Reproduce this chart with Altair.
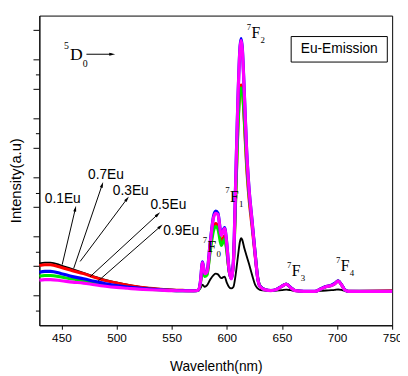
import math
import altair as alt
import pandas as pd

# ---------------- data ----------------
wavelength = [430, 435, 440, 450, 460, 470, 480, 490, 500, 510,
              520, 530, 540, 550, 560, 570, 574, 576, 578, 580,
              582, 585, 588, 590, 592, 595, 598, 600, 602, 604,
              606, 608, 610, 612, 613, 614, 616, 618, 620, 623,
              626, 628, 630, 635, 640, 645, 650, 654, 658, 662,
              670, 680, 685, 690, 695, 698, 701, 704, 707, 710,
              720, 735, 750]

eu01 = [4.20, 4.25, 4.25, 4.05, 3.80, 3.55, 3.30, 3.07, 2.90, 2.75,
        2.62, 2.53, 2.46, 2.41, 2.38, 2.36, 2.37, 2.50, 2.75, 2.60,
        2.70, 3.10, 3.40, 3.50, 3.45, 3.20, 3.30, 2.90, 2.60, 2.50,
        2.60, 3.40, 4.60, 5.70, 5.90, 5.80, 5.20, 4.70, 4.20, 3.40,
        2.70, 2.50, 2.40, 2.35, 2.34, 2.35, 2.38, 2.42, 2.38, 2.33,
        2.30, 2.30, 2.33, 2.36, 2.38, 2.40, 2.43, 2.40, 2.33, 2.30,
        2.29, 2.29, 2.29]

eu07 = [4.05, 4.10, 4.10, 3.92, 3.70, 3.50, 3.25, 3.03, 2.87, 2.72,
        2.60, 2.52, 2.45, 2.40, 2.37, 2.35, 2.37, 2.80, 4.00, 3.35,
        3.45, 5.20, 6.70, 6.90, 6.70, 5.70, 6.05, 5.10, 3.70, 3.20,
        4.20, 8.40, 13.2, 16.0, 16.3, 16.0, 13.6, 10.7, 8.70, 6.60,
        4.50, 3.20, 2.65, 2.40, 2.35, 2.42, 2.65, 2.78, 2.55, 2.35,
        2.30, 2.30, 2.45, 2.62, 2.70, 2.82, 3.00, 2.75, 2.40, 2.31,
        2.31, 2.32, 2.35]

eu03 = [3.33, 3.38, 3.38, 3.27, 3.13, 3.02, 2.88, 2.76, 2.66, 2.57,
        2.50, 2.44, 2.40, 2.36, 2.34, 2.33, 2.36, 2.75, 3.90, 3.30,
        3.40, 5.00, 6.40, 6.70, 6.50, 5.40, 5.85, 5.00, 3.70, 3.20,
        4.10, 8.30, 13.0, 15.8, 16.1, 15.9, 13.8, 11.0, 9.00, 6.90,
        4.70, 3.30, 2.70, 2.40, 2.35, 2.42, 2.65, 2.78, 2.55, 2.35,
        2.30, 2.30, 2.45, 2.62, 2.70, 2.82, 3.00, 2.75, 2.40, 2.30,
        2.29, 2.29, 2.29]

eu05 = [3.60, 3.66, 3.66, 3.50, 3.30, 3.15, 2.98, 2.82, 2.70, 2.60,
        2.52, 2.46, 2.41, 2.37, 2.35, 2.34, 2.38, 2.92, 4.30, 3.52,
        3.62, 5.65, 7.40, 7.75, 7.60, 6.15, 6.62, 5.55, 3.82, 3.17,
        4.35, 9.60, 15.1, 18.9, 19.45, 18.9, 15.6, 11.9, 9.45, 7.05,
        4.65, 3.22, 2.66, 2.41, 2.36, 2.43, 2.66, 2.80, 2.56, 2.36,
        2.31, 2.31, 2.46, 2.63, 2.72, 2.84, 3.02, 2.76, 2.41, 2.31,
        2.30, 2.30, 2.30]

eu09 = [3.05, 3.10, 3.10, 3.02, 2.93, 2.86, 2.75, 2.65, 2.57, 2.51,
        2.45, 2.41, 2.38, 2.35, 2.34, 2.33, 2.38, 2.90, 4.25, 3.50,
        3.60, 5.60, 7.30, 7.60, 7.50, 6.10, 6.55, 5.50, 3.80, 3.15,
        4.30, 9.50, 15.0, 18.8, 19.3, 18.8, 15.5, 11.8, 9.40, 7.00,
        4.60, 3.20, 2.65, 2.40, 2.35, 2.42, 2.65, 2.78, 2.55, 2.35,
        2.30, 2.30, 2.45, 2.62, 2.70, 2.82, 3.00, 2.75, 2.40, 2.30,
        2.29, 2.29, 2.29]

series_names = ["0.1Eu", "0.7Eu", "0.3Eu", "0.5Eu", "0.9Eu"]
series_values = [eu01, eu07, eu03, eu05, eu09]
series_colors = ["#000000", "#ff0000", "#00e600", "#0000ff", "#ff00ff"]
series_widths = [1.9, 3.0, 3.0, 3.2, 3.2]

# concentration labels and arrows (data coordinates)
eu_labels = ["0.1Eu", "0.7Eu", "0.3Eu", "0.5Eu", "0.9Eu"]
label_x = [451.2, 490.4, 512.9, 547.0, 558.6]
label_y = [8.53, 10.16, 9.07, 8.16, 6.40]
arrow_x1 = [450.7, 461.1, 467.0, 476.0, 483.3, 472.7]
arrow_y1 = [4.11, 3.85, 4.33, 3.29, 3.00, 18.38]
arrow_x2 = [462.6, 486.9, 509.4, 537.3, 539.6, 495.8]
arrow_y2 = [7.89, 9.51, 8.56, 7.51, 6.69, 18.38]

# spectroscopic term labels
term_main = ["F", "F", "F", "F", "F", "D"]
term_sup = ["7", "7", "7", "7", "7", "5"]
term_sub = ["2", "1", "0", "3", "4", "0"]
term_x = [626.4, 606.9, 586.4, 662.9, 707.3, 463.5]
term_y = [19.78, 8.71, 5.31, 3.65, 3.98, 18.31]

box_text = "Eu-Emission"
box_x = [658.4, 745.6]
box_y = [17.85, 19.58]

x_ticks = list(range(450, 751, 25))
y_ticks = list(range(1, 21))
y_major = list(range(2, 21, 2))

# ---------------- geometry ----------------
W, H = 360, 316
XDOM, YDOM = [430, 750], [0, 21]
sx = W / (XDOM[1] - XDOM[0])
sy = H / (YDOM[1] - YDOM[0])

SANS = "Liberation Sans"
SERIF = "Liberation Serif"

x_enc = alt.X(
    "w:Q",
    scale=alt.Scale(domain=XDOM, nice=False, zero=False),
    axis=alt.Axis(
        values=x_ticks,
        title="Wavelenth(nm)",
        labelExpr="datum.value % 50 === 0 ? datum.label : ''",
        tickSize=4,
        labelFont=SANS, labelFontSize=12, labelColor="#000",
        labelPadding=4, labelFlush=False,
        titleFont=SANS, titleFontSize=14, titleFontWeight="normal", titleColor="#000",
        titleY=42, titleBaseline="middle",
        grid=False, domainColor="#000", tickColor="#000",
    ),
)
y_enc = alt.Y(
    "v:Q",
    scale=alt.Scale(domain=YDOM, nice=False, zero=False),
    axis=alt.Axis(
        values=y_ticks,
        labels=False,
        title="Intensity(a.u)",
        tickSize=4,
        titleFont=SANS, titleFontSize=15, titleFontWeight="normal", titleColor="#000",
        titleX=-24, titleY=168, titleBaseline="middle", titleAngle=-90,
        grid=False, domainColor="#000", tickColor="#000",
    ),
)

layers = []
for name, vals, col, sw in zip(series_names, series_values, series_colors, series_widths):
    df = pd.DataFrame({"w": wavelength, "v": vals})
    layers.append(
        alt.Chart(df).mark_line(color=col, strokeWidth=sw, interpolate="monotone").encode(x=x_enc, y=y_enc)
    )

# longer major ticks on the intensity axis
major_df = pd.DataFrame({"v": y_major})
major_ticks = alt.Chart(major_df).mark_rule(color="#000", strokeWidth=1).encode(
    y=alt.Y("v:Q", scale=alt.Scale(domain=YDOM)), x=alt.value(-6), x2=alt.value(0))

# arrows
angles = []
for a, b, c, d in zip(arrow_x1, arrow_y1, arrow_x2, arrow_y2):
    dx = (c - a) * sx
    dy = -(d - b) * sy
    angles.append(math.degrees(math.atan2(dx, -dy)) % 360)
arr_df = pd.DataFrame({"x1": arrow_x1, "y1": arrow_y1, "x2": arrow_x2, "y2": arrow_y2, "ang": angles})
arrows = alt.Chart(arr_df).mark_rule(color="#000", strokeWidth=1).encode(
    x=alt.X("x1:Q", scale=alt.Scale(domain=XDOM)), y=alt.Y("y1:Q", scale=alt.Scale(domain=YDOM)),
    x2="x2:Q", y2="y2:Q")
heads = alt.Chart(arr_df).mark_point(shape="M0,-1L0.45,0.8L-0.45,0.8Z", filled=True, color="#000",
                                     size=45, opacity=1).encode(
    x="x2:Q", y="y2:Q", angle=alt.Angle("ang:Q", scale=None))

lab_df = pd.DataFrame({"x": label_x, "y": label_y, "t": eu_labels})
labels = alt.Chart(lab_df).mark_text(font=SANS, fontSize=14, color="#000", align="center", baseline="middle").encode(
    x="x:Q", y="y:Q", text="t:N")

term_df = pd.DataFrame({"x": term_x, "y": term_y, "m": term_main, "p": term_sup, "b": term_sub,
                        "big": [m == "D" for m in term_main]})
term_F = term_df[~term_df.big]
term_D = term_df[term_df.big]
tF = alt.Chart(term_F).mark_text(font=SERIF, fontSize=16, color="#000", align="center", baseline="middle").encode(
    x="x:Q", y="y:Q", text="m:N")
tFp = alt.Chart(term_F).mark_text(font=SERIF, fontSize=9, color="#000", align="center", baseline="middle",
                                  dx=-7, dy=-7).encode(x="x:Q", y="y:Q", text="p:N")
tFb = alt.Chart(term_F).mark_text(font=SERIF, fontSize=9, color="#000", align="center", baseline="middle",
                                  dx=7, dy=7).encode(x="x:Q", y="y:Q", text="b:N")
tD = alt.Chart(term_D).mark_text(font=SERIF, fontSize=18, color="#000", align="center", baseline="middle").encode(
    x="x:Q", y="y:Q", text="m:N")
tDp = alt.Chart(term_D).mark_text(font=SERIF, fontSize=10, color="#000", align="center", baseline="middle",
                                  dx=-10, dy=-9).encode(x="x:Q", y="y:Q", text="p:N")
tDb = alt.Chart(term_D).mark_text(font=SERIF, fontSize=10, color="#000", align="center", baseline="middle",
                                  dx=9, dy=9).encode(x="x:Q", y="y:Q", text="b:N")

box_df = pd.DataFrame({"x1": [box_x[0]], "x2": [box_x[1]], "y1": [box_y[0]], "y2": [box_y[1]],
                       "xc": [(box_x[0] + box_x[1]) / 2], "yc": [(box_y[0] + box_y[1]) / 2], "t": [box_text]})
box = alt.Chart(box_df).mark_rect(fill="white", stroke="#000", strokeWidth=1).encode(
    x="x1:Q", x2="x2:Q", y="y1:Q", y2="y2:Q")
box_t = alt.Chart(box_df).mark_text(font=SANS, fontSize=14, color="#000", align="center", baseline="middle").encode(
    x="xc:Q", y="yc:Q", text="t:N")

chart = alt.layer(*layers, major_ticks, arrows, heads, labels, tF, tFp, tFb, tD, tDp, tDb, box, box_t).properties(
    width=W, height=H,
    autosize=alt.AutoSizeParams(type="none"),
    padding={"left": 32, "top": 4, "right": 8, "bottom": 48},
    background="white",
).configure_view(stroke="#000", strokeWidth=1).configure_axis(domainWidth=1, tickWidth=1)

chart.save("out.html", embed_options={"renderer": "svg", "actions": False})
